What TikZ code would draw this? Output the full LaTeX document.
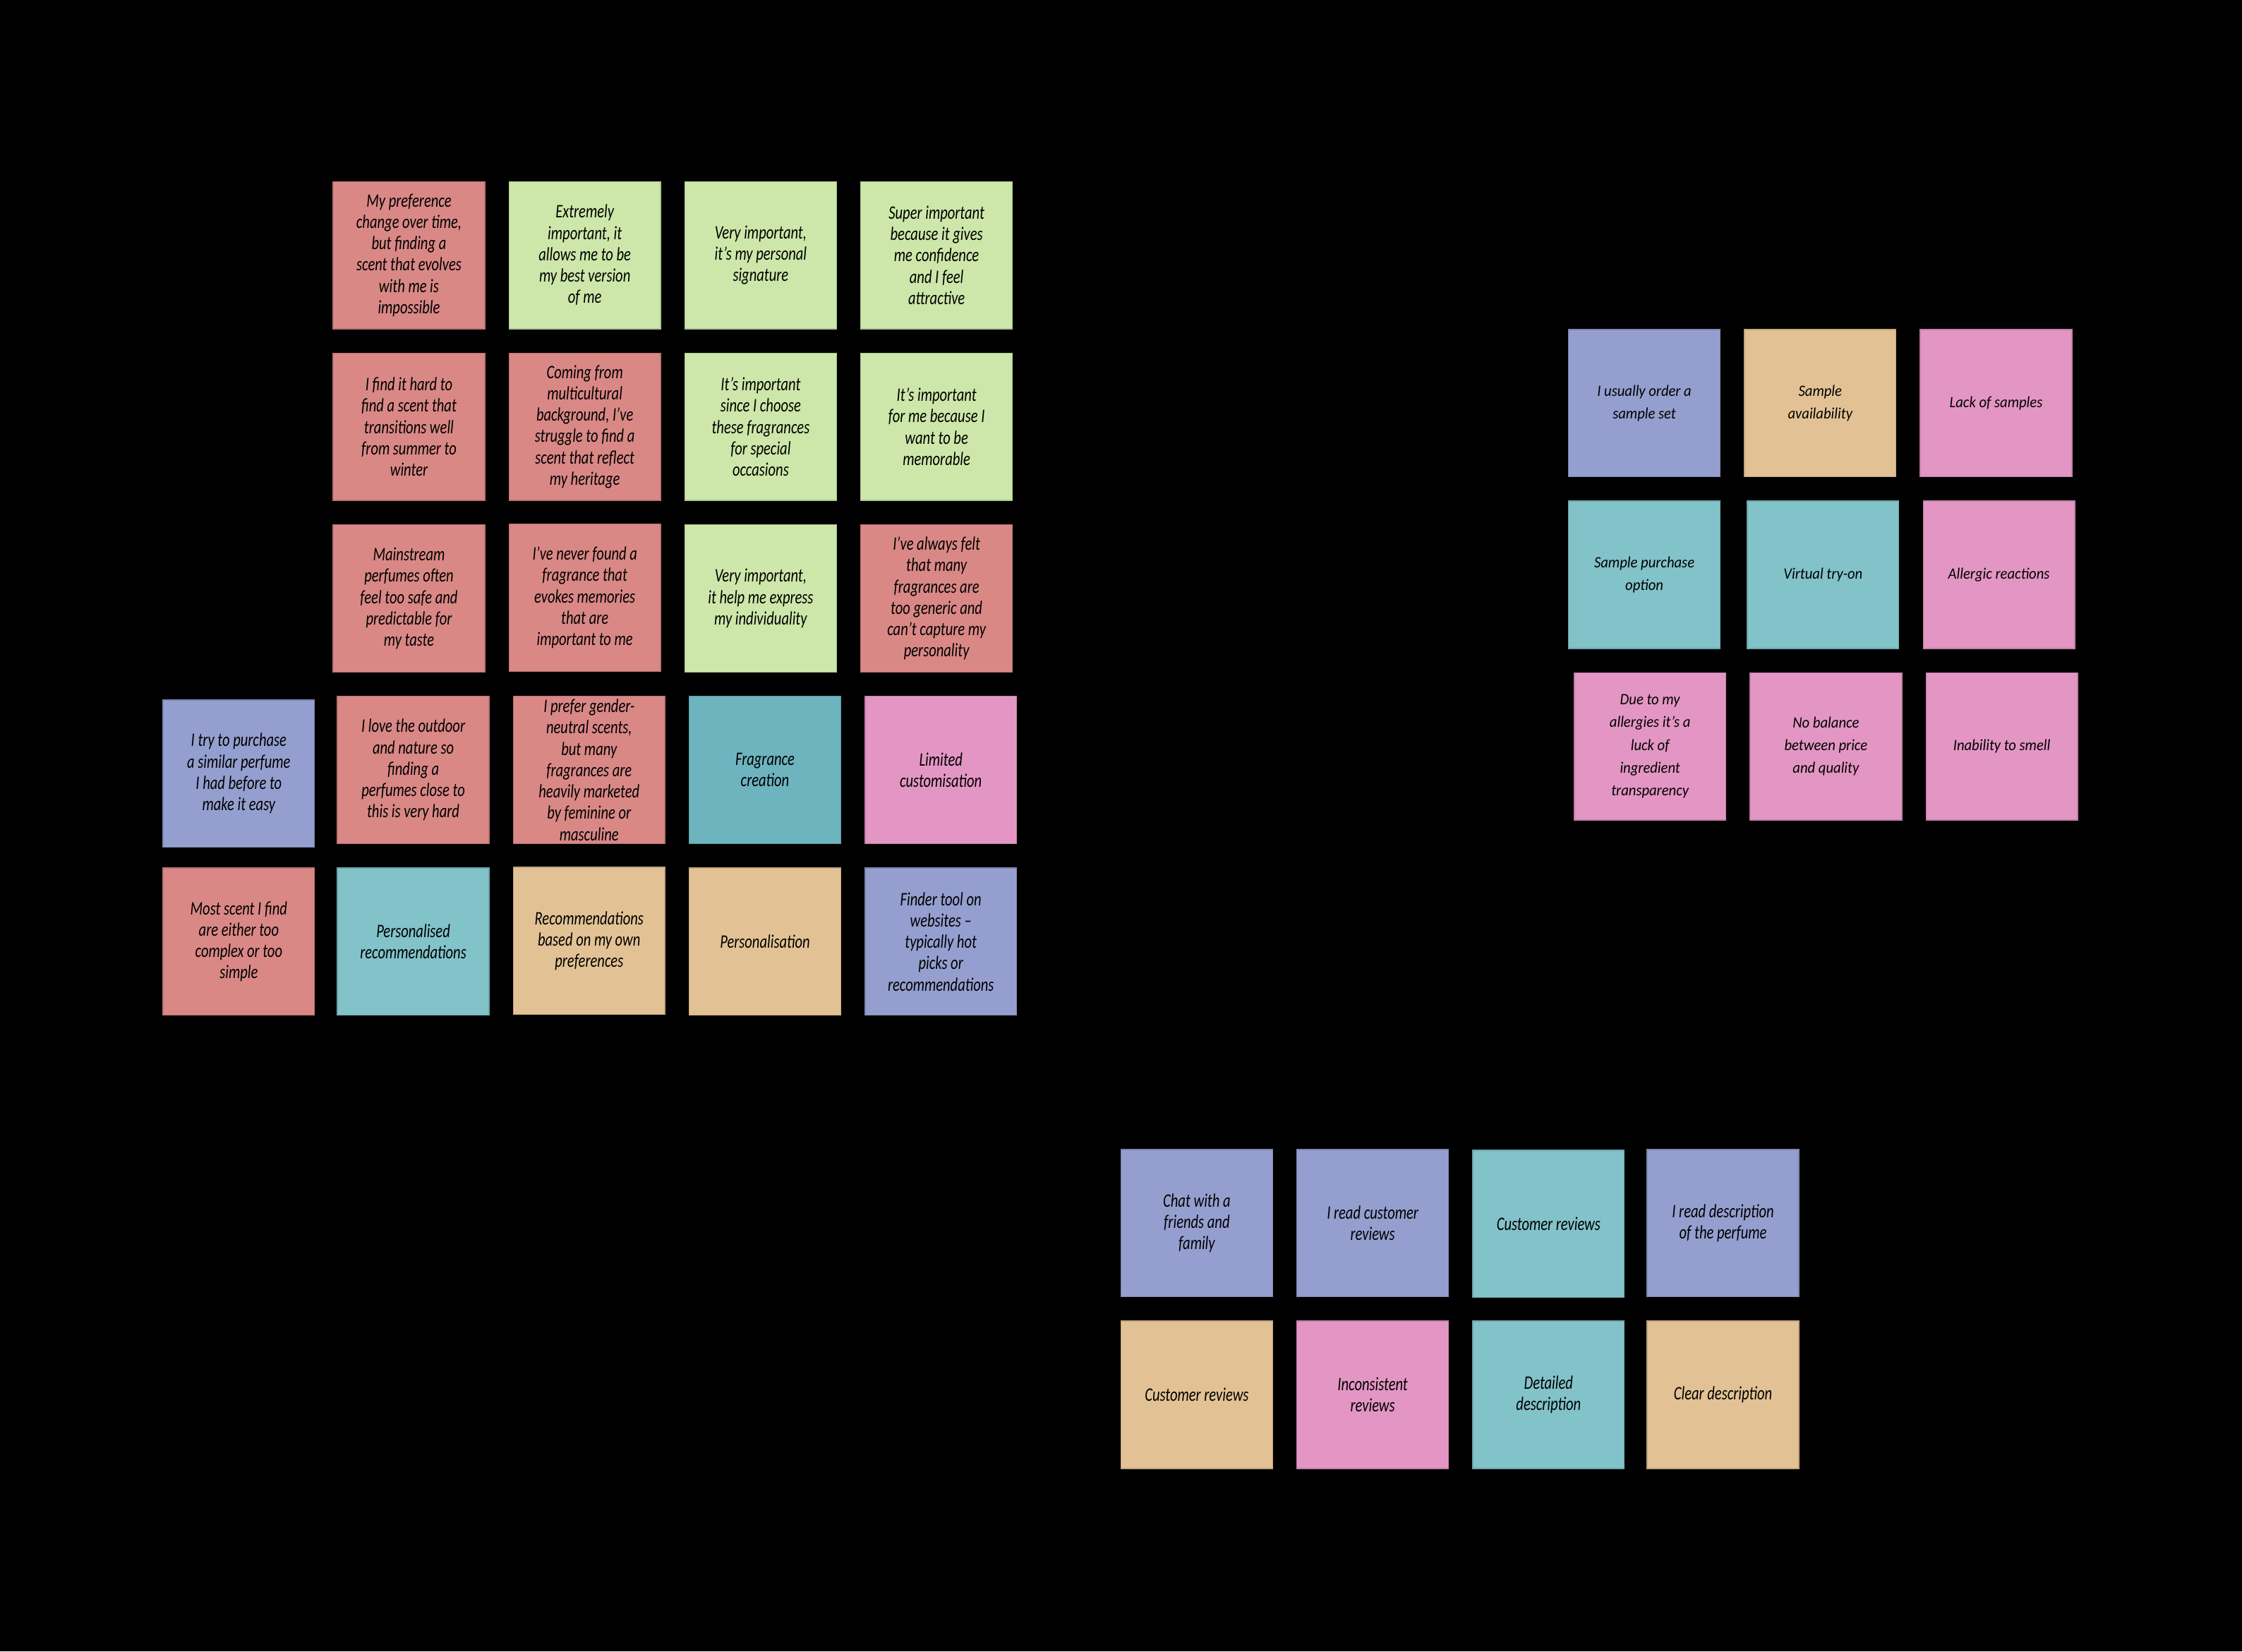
\documentclass[tikz,border=0pt]{standalone}
\usepackage{fontspec}
\newfontfamily\handfont[FakeStretch=0.76]{Carlito}
\newfontfamily\roundhand[FakeStretch=0.92]{Carlito}

\definecolor{stickyred}{RGB}{217,136,134}
\definecolor{stickygreen}{RGB}{204,231,169}
\definecolor{stickyblue}{RGB}{148,159,207}
\definecolor{stickyteal}{RGB}{130,194,201}
\definecolor{stickytealdark}{RGB}{109,180,191}
\definecolor{stickysand}{RGB}{226,194,148}
\definecolor{stickypink}{RGB}{227,150,195}

\tikzset{
    sticky/.style={minimum width=2.12cm, minimum height=2.06cm, inner sep=1pt,
                   align=center, line width=0.4pt,
                   font=\handfont\itshape\fontsize{7.6}{8.5}\selectfont},
    roundsticky/.style={sticky, font=\roundhand\itshape\fontsize{6.3}{9}\selectfont},
    notered/.style={fill=stickyred, draw=stickyred!85!black},
    notegreen/.style={fill=stickygreen, draw=stickygreen!85!black},
    noteblue/.style={fill=stickyblue, draw=stickyblue!85!black},
    noteteal/.style={fill=stickyteal, draw=stickyteal!85!black},
    notetealdark/.style={fill=stickytealdark, draw=stickytealdark!85!black},
    notesand/.style={fill=stickysand, draw=stickysand!85!black},
    notepink/.style={fill=stickypink, draw=stickypink!85!black},
}

\begin{document}
\begin{tikzpicture}[x=0.02cm, y=-0.02cm]
    \fill[black] (0,0) rectangle (1568,1155);
    \useasboundingbox (0,0) rectangle (1568,1155);

    % left cluster, rows 1-3
    \node[sticky, notered]   (pref)    at (286,178.5) {My preference\\change over time,\\but finding a\\scent that evolves\\with me is\\impossible};
    \node[sticky, notegreen] (best)    at (409,178.5) {Extremely\\important, it\\allows me to be\\my best version\\of me};
    \node[sticky, notegreen] (sign)    at (532,178.5) {Very important,\\it’s my personal\\signature};
    \node[sticky, notegreen] (confid)  at (655,178.5) {Super important\\because it gives\\me confidence\\and I feel\\attractive};

    \node[sticky, notered]   (season)  at (286,298.5) {I find it hard to\\find a scent that\\transitions well\\from summer to\\winter};
    \node[sticky, notered]   (herit)   at (409,298.5) {Coming from\\multicultural\\background, I’ve\\struggle to find a\\scent that reflect\\my heritage};
    \node[sticky, notegreen] (special) at (532,298.5) {It’s important\\since I choose\\these fragrances\\for special\\occasions};
    \node[sticky, notegreen] (memo)    at (655,298.5) {It’s important\\for me because I\\want to be\\memorable};

    \node[sticky, notered]   (mainstr) at (286,418.5) {Mainstream\\perfumes often\\feel too safe and\\predictable for\\my taste};
    \node[sticky, notered]   (memory)  at (409,418)   {I’ve never found a\\fragrance that\\evokes memories\\that are\\important to me};
    \node[sticky, notegreen] (indiv)   at (532,418.5) {Very important,\\it help me express\\my individuality};
    \node[sticky, notered]   (generic) at (655,418.5) {I’ve always felt\\that many\\fragrances are\\too generic and\\can’t capture my\\personality};

    % left cluster, rows 4-5
    \node[sticky, noteblue]     (similar) at (167,541)   {I try to purchase\\a similar perfume\\I had before to\\make it easy};
    \node[sticky, notered]      (outdoor) at (289,538.5) {I love the outdoor\\and nature so\\finding a\\perfumes close to\\this is very hard};
    \node[sticky, notered]      (gender)  at (412,538.5) {I prefer gender-\\neutral scents,\\but many\\fragrances are\\heavily marketed\\by feminine or\\masculine};
    \node[sticky, notetealdark] (create)  at (535,538.5) {Fragrance\\creation};
    \node[sticky, notepink]     (limit)   at (658,538.5) {Limited\\customisation};

    \node[sticky, notered]  (complex) at (167,658.5) {Most scent I find\\are either too\\complex or too\\simple};
    \node[sticky, noteteal] (persrec) at (289,658.5) {Personalised\\recommendations};
    \node[sticky, notesand] (ownpref) at (412,658)   {Recommendations\\based on my own\\preferences};
    \node[sticky, notesand] (persnl)  at (535,658.5) {Personalisation};
    \node[sticky, noteblue] (finder)  at (658,658.5) {Finder tool on\\websites –\\typically hot\\picks or\\recommendations};

    % right cluster
    \node[roundsticky, noteblue] (sampset)  at (1150,282) {I usually order a\\sample set};
    \node[roundsticky, notesand] (sampav)   at (1273,282) {Sample\\availability};
    \node[roundsticky, notepink] (lacksamp) at (1396,282) {Lack of samples};

    \node[roundsticky, noteteal] (sampbuy)  at (1150,402) {Sample purchase\\option};
    \node[roundsticky, noteteal] (tryon)    at (1275,402) {Virtual try-on};
    \node[roundsticky, notepink] (allergy)  at (1398,402) {Allergic reactions};

    \node[roundsticky, notepink] (ingred)   at (1154,522) {Due to my\\allergies it’s a\\luck of\\ingredient\\transparency};
    \node[roundsticky, notepink] (balance)  at (1277,522) {No balance\\between price\\and quality};
    \node[roundsticky, notepink] (nosmell)  at (1400,522) {Inability to smell};

    % bottom cluster
    \node[sticky, noteblue] (chat)     at (837,855.5)  {Chat with a\\friends and\\family};
    \node[sticky, noteblue] (readrev)  at (960,855.5)  {I read customer\\reviews};
    \node[sticky, noteteal] (custrev)  at (1083,856)   {Customer reviews};
    \node[sticky, noteblue] (readdesc) at (1205,855.5) {I read description\\of the perfume};

    \node[sticky, notesand] (custrev2) at (837,975.5)  {Customer reviews};
    \node[sticky, notepink] (inconsis) at (960,975.5)  {Inconsistent\\reviews};
    \node[sticky, noteteal] (detail)   at (1083,975.5) {Detailed\\description};
    \node[sticky, notesand] (clear)    at (1205,975.5) {Clear description};
\end{tikzpicture}
\end{document}
